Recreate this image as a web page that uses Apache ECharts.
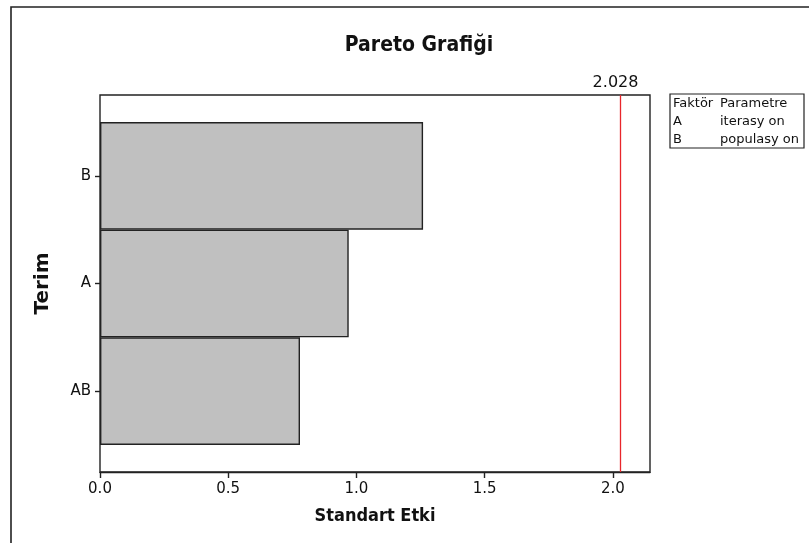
<!DOCTYPE html>
<html>
<head>
<meta charset="utf-8">
<script src="https://cdn.jsdelivr.net/npm/echarts@6/dist/echarts.min.js"></script>
<style>
  html, body { margin: 0; padding: 0; background: #fff; }
  #chart { width: 809px; height: 543px; }
</style>
</head>
<body>
<div id="chart"></div>
<script>
// Standardized effects, largest first (Pareto order)
const terms = ['B', 'A', 'AB'];
const effects = [1.26, 0.97, 0.78];
// Critical value of the standardized effect (alpha = 0.05)
const critical = 2.028;
const xTicks = { min: 0, max: 2.145, step: 0.5 };
// Factor key shown beside the plot
const keyHeader = ['Faktör', 'Parametre'];
const keyFactors = ['A', 'B'];
const keyNames = ['iterasy on', 'populasy on'];

const REG = "'DejaVu Sans', sans-serif";
const COND = "'DejaVu Sans Condensed', 'Liberation Sans Narrow', 'DejaVu Sans', sans-serif";
const ink = '#111';

const frame = { left: 100, top: 95, width: 550, height: 377 };
const band = { left: 100, top: 122, width: 550, height: 323 };

const keyRows = [keyHeader].concat(keyFactors.map((f, i) => [f, keyNames[i]]));
const keyText = [];
keyRows.forEach((row, i) => {
  keyText.push({ type: 'text', left: 673, top: 97 + i * 18,
    style: { text: row[0], font: '13px ' + REG, fill: ink } });
  keyText.push({ type: 'text', left: 720, top: 97 + i * 18,
    style: { text: row[1], font: '13px ' + REG, fill: ink } });
});

const chart = echarts.init(document.getElementById('chart'), null, { renderer: 'canvas' });
chart.setOption({
  animation: false,
  backgroundColor: '#fff',
  title: {
    text: 'Pareto Grafiği',
    left: 414, top: 30, textAlign: 'center',
    textStyle: { fontFamily: COND, fontWeight: 'bold', fontSize: 21, color: ink }
  },
  grid: [
    Object.assign({ show: true, borderColor: '#222', borderWidth: 1.4, backgroundColor: 'transparent' }, frame),
    Object.assign({ show: false }, band)
  ],
  xAxis: [
    {
      gridIndex: 0, type: 'value', min: xTicks.min, max: xTicks.max, interval: xTicks.step,
      name: 'Standart Etki', nameLocation: 'middle', nameGap: 35,
      nameTextStyle: { fontFamily: COND, fontWeight: 'bold', fontSize: 18, color: ink },
      axisLine: { show: true, onZero: false, lineStyle: { color: '#222', width: 1.4 } },
      axisTick: { show: true, inside: false, length: 6, lineStyle: { color: '#222', width: 1.4 } },
      axisLabel: { margin: 10, fontFamily: REG, fontSize: 15, color: ink,
        formatter: v => v.toFixed(1), showMaxLabel: false },
      splitLine: { show: false }
    },
    {
      gridIndex: 1, type: 'value', min: xTicks.min, max: xTicks.max, show: false
    }
  ],
  yAxis: [
    {
      gridIndex: 0, type: 'value', min: 0, max: 1,
      axisLine: { show: false }, axisTick: { show: false },
      axisLabel: { show: false }, splitLine: { show: false },
      name: 'Terim', nameLocation: 'middle', nameGap: 47, nameRotate: 90,
      nameTextStyle: { fontFamily: REG, fontWeight: 'bold', fontSize: 20, color: ink }
    },
    {
      gridIndex: 1, type: 'category', data: terms, inverse: true,
      axisLine: { show: false },
      axisTick: { show: true, alignWithLabel: true, length: 5, lineStyle: { color: '#222', width: 1.4 } },
      axisLabel: { margin: 9, fontFamily: REG, fontSize: 15, color: ink },
      splitLine: { show: false }
    }
  ],
  series: [
    {
      type: 'bar', xAxisIndex: 1, yAxisIndex: 1,
      data: effects, barCategoryGap: 0, barWidth: '100%',
      itemStyle: { color: '#c0c0c0', borderColor: '#222', borderWidth: 1.4 },
      silent: true
    },
    {
      // reference line for the critical effect, spanning the full frame
      type: 'line', xAxisIndex: 0, yAxisIndex: 0, data: [],
      markLine: {
        symbol: 'none', silent: true,
        lineStyle: { color: '#e8262b', width: 1.3, type: 'solid' },
        label: { show: true, position: 'end', distance: 4, offset: [-5, 0],
          formatter: () => critical.toFixed(3),
          fontFamily: REG, fontSize: 16, color: ink },
        data: [{ xAxis: critical }]
      }
    }
  ],
  graphic: [
    { type: 'rect', shape: { x: 11, y: 7, width: 830, height: 580 },
      style: { fill: 'none', stroke: '#222', lineWidth: 1.6 }, silent: true },
    { type: 'rect', shape: { x: 670, y: 94, width: 134, height: 54 },
      style: { fill: '#fff', stroke: '#222', lineWidth: 1.2 }, silent: true }
  ].concat(keyText)
});
</script>
</body>
</html>
